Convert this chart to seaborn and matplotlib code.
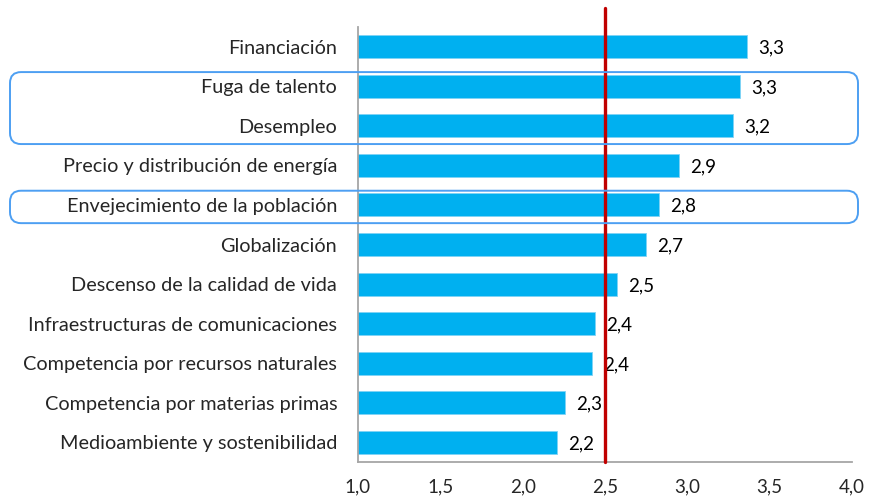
import matplotlib
matplotlib.use("Agg")
import matplotlib.pyplot as plt
from matplotlib.patches import FancyBboxPatch
import seaborn as sns
import pandas as pd

# datos
categorias = [
    "Financiación",
    "Fuga de talento",
    "Desempleo",
    "Precio y distribución de energía",
    "Envejecimiento de la población",
    "Globalización",
    "Descenso de la calidad de vida",
    "Infraestructuras de comunicaciones",
    "Competencia por recursos naturales",
    "Competencia por materias primas",
    "Medioambiente y sostenibilidad",
]
valores = [3.36, 3.32, 3.28, 2.95, 2.83, 2.75, 2.57, 2.44, 2.42, 2.26, 2.21]
etiquetas = ["3,3", "3,3", "3,2", "2,9", "2,8", "2,7", "2,5", "2,4", "2,4", "2,3", "2,2"]
ticks_x = [1.0, 1.5, 2.0, 2.5, 3.0, 3.5, 4.0]
umbral = 2.5
# grupos destacados (índices de categoría)
grupos = [(1, 2), (4, 4)]

df = pd.DataFrame({"categoria": categorias, "valor": valores})

sns.set_style("white")
plt.rcParams["font.family"] = ["Lato", "DejaVu Sans"]

W, H = 874, 498
fig = plt.figure(figsize=(W / 100, H / 100), dpi=100)
ax = fig.add_axes([358 / W, 1 - 462 / H, (852 - 358) / W, (462 - 27) / H])

sns.barplot(data=df, x="valor", y="categoria", orient="h", color="#00B0F0",
            saturation=1, width=0.58, edgecolor="#7fd3f5", linewidth=0.6, ax=ax)

ax.set_xlim(1, 4)
ax.set_xticks(ticks_x)
ax.set_xticklabels([f"{t:.1f}".replace(".", ",") for t in ticks_x], fontsize=13.5)
ax.tick_params(axis="x", length=0, pad=12)
ax.tick_params(axis="y", length=0, pad=15, labelsize=14.3)
ax.set_xlabel("")
ax.set_ylabel("")
for s in ["top", "right"]:
    ax.spines[s].set_visible(False)
for s in ["left", "bottom"]:
    ax.spines[s].set_color("#a6a6a6")
    ax.spines[s].set_linewidth(1.3)

# etiquetas de valor
for i, (v, lab) in enumerate(zip(valores, etiquetas)):
    ax.annotate(lab, (v, i), xytext=(8, -1), textcoords="offset points",
                va="center", ha="left", fontsize=13.5, color="black")

# línea de referencia
ax.axvline(umbral, ymin=0, ymax=1.044, color="#C00000", linewidth=2.4,
           clip_on=False, zorder=5)

# recuadros redondeados
to_fig = ax.transData + fig.transFigure.inverted()
r_px = 11
for a, b in grupos:
    y_top = to_fig.transform((1, a - 0.36))[1]
    y_bot = to_fig.transform((1, b + 0.46))[1]
    x0, x1 = 10 / W, 858 / W
    box = FancyBboxPatch((x0, y_bot), x1 - x0, y_top - y_bot,
                         boxstyle=f"round,pad=0,rounding_size={r_px / W}",
                         mutation_aspect=W / H, transform=fig.transFigure,
                         fill=False, edgecolor="#4d9ff2", linewidth=1.4,
                         zorder=6)
    fig.add_artist(box)

fig.savefig("out.png", dpi=100)
